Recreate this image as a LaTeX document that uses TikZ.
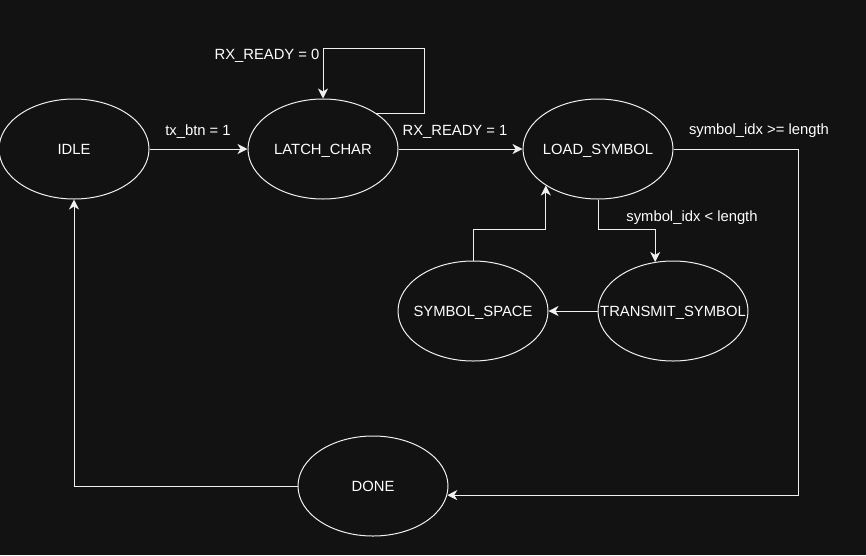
\documentclass[tikz,border=0pt]{standalone}
\usepackage{fontspec}
\setmainfont{Liberation Sans}
\usetikzlibrary{shapes.geometric,arrows.meta}
\definecolor{bg}{HTML}{121212}
\definecolor{ln}{HTML}{F0F0F0}
\newcommand\sttext[1]{\makebox[0pt][c]{#1}}
\begin{document}
\begin{tikzpicture}[x=1pt,y=-1pt,
  state/.style={ellipse,draw=ln,line width=1pt,minimum width=150pt,minimum height=100pt,inner sep=0pt,text=white,text height=10.6pt,text depth=0pt,font=\fontsize{14.8}{17}\selectfont},
  lbl/.style={text=white,inner sep=0pt,font=\fontsize{14.8}{17}\selectfont},
  arr/.style={draw=ln,line width=1pt,-{Stealth[length=10pt,width=10pt,inset=3pt]}}]
\useasboundingbox (0,0) rectangle (866,555);
\fill[bg] (0,0) rectangle (866,555);
\node[state] (idle) at (74,149) {\sttext{IDLE}};
\node[state] (latch) at (323,149) {\sttext{LATCH\_CHAR}};
\node[state] (load) at (598,149) {\sttext{LOAD\_SYMBOL}};
\node[state] (space) at (473,311) {\sttext{SYMBOL\_SPACE}};
\node[state] (transmit) at (673,311) {\sttext{TRANSMIT\_SYMBOL}};
\node[state] (done) at (373,486) {\sttext{DONE}};
\coordinate (m1) at (0,229);
\coordinate (c1) at (798,149);
\coordinate (c2) at (424,48);
\draw[arr] (idle.east) -- (latch.west);
\draw[arr] (latch.34) -| (c2) -| (latch.north);
\draw[arr] (latch.east) -- (load.west);
\draw[arr] (load.east) -- (c1) |- (done.-7);
\draw[arr] (load.south) |- (transmit.110 |- m1) -- (transmit.110);
\draw[arr] (transmit.west) -- (space.east);
\draw[arr] (space.north) |- (load.-145 |- m1) -- (load.-145);
\draw[arr] (done.west) -| (idle.south);
\node[lbl] (l1) at (198,131.5) {tx\_btn = 1};
\node[lbl] (l2) at (267,55.5) {RX\_READY = 0};
\node[lbl] (l3) at (455,131.5) {RX\_READY = 1};
\node[lbl] (l4) at (759,130.5) {symbol\_idx >= length};
\node[lbl] (l5) at (692,217.5) {symbol\_idx < length};
\end{tikzpicture}
\end{document}
